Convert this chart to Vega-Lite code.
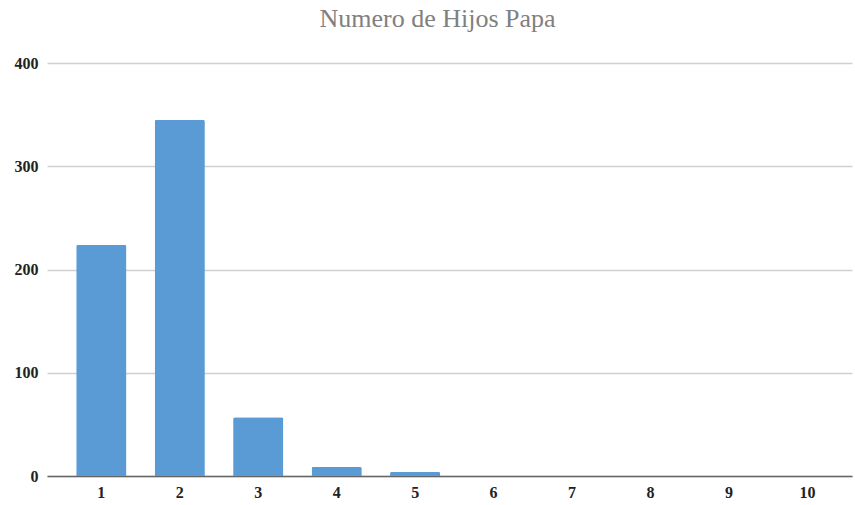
{
  "$schema": "https://vega.github.io/schema/vega-lite/v6.json",
  "autosize": {"type": "none"},
  "padding": {"left": 47, "top": 63, "right": 3, "bottom": 29},
  "width": 805,
  "height": 413,
  "background": "white",
  "title": {
    "text": "Numero de Hijos Papa",
    "font": "Liberation Serif",
    "fontSize": 26,
    "fontWeight": "normal",
    "color": "#808080",
    "offset": 23,
    "dx": -12
  },
  "data": {
    "values": [
      {"hijos": "1", "n": 224},
      {"hijos": "2", "n": 345},
      {"hijos": "3", "n": 57},
      {"hijos": "4", "n": 9},
      {"hijos": "5", "n": 4},
      {"hijos": "6", "n": 0},
      {"hijos": "7", "n": 0},
      {"hijos": "8", "n": 0},
      {"hijos": "9", "n": 0},
      {"hijos": "10", "n": 0}
    ]
  },
  "mark": {"type": "bar", "color": "#5b9bd5", "cornerRadiusTopLeft": 2, "cornerRadiusTopRight": 2},
  "encoding": {
    "x": {
      "field": "hijos",
      "type": "ordinal",
      "sort": null,
      "scale": {"paddingInner": 0.36, "paddingOuter": 0.31, "align": 0.6},
      "axis": {
        "title": null,
        "labelAngle": 0,
        "ticks": false,
        "domainColor": "#666666",
        "domainWidth": 1.5,
        "labelFont": "Liberation Serif",
        "labelFontSize": 16,
        "labelFontWeight": "bold",
        "labelColor": "#222222",
        "labelPadding": 8
      }
    },
    "y": {
      "field": "n",
      "type": "quantitative",
      "scale": {"domain": [0, 400]},
      "axis": {
        "title": null,
        "values": [0, 100, 200, 300, 400],
        "ticks": false,
        "domain": false,
        "gridColor": "#d0d0d0",
        "gridWidth": 1.5,
        "labelFont": "Liberation Serif",
        "labelFontSize": 16,
        "labelFontWeight": "bold",
        "labelColor": "#222222",
        "labelPadding": 9
      }
    }
  },
  "config": {"view": {"stroke": null}}
}
